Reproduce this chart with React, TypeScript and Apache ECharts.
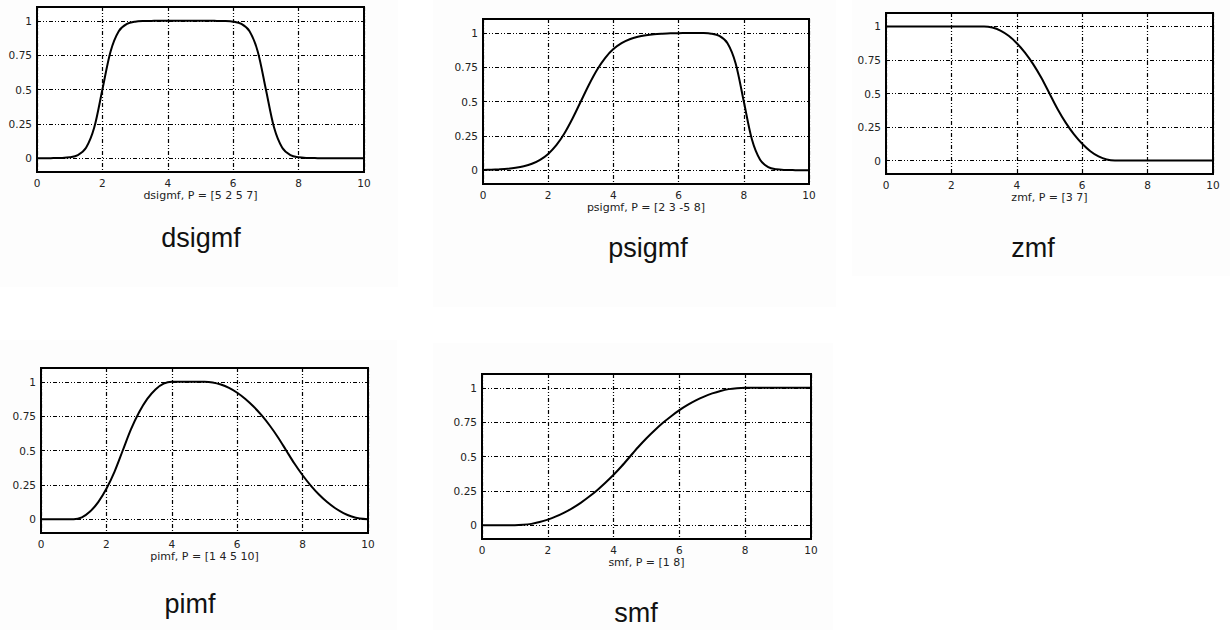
import React, { useEffect, useRef } from "react";
import * as echarts from "echarts";

const xValues = [
  0, 0.25, 0.5, 0.75, 1, 1.25, 1.5, 1.75, 2, 2.25, 2.5, 2.75, 3, 3.25, 3.5, 3.75, 4,
  4.25, 4.5, 4.75, 5, 5.25, 5.5, 5.75, 6, 6.25, 6.5, 6.75, 7, 7.25, 7.5, 7.75, 8,
  8.25, 8.5, 8.75, 9, 9.25, 9.5, 9.75, 10,
];

const xTicks = [0, 2, 4, 6, 8, 10];
const yTicks = [0, 0.25, 0.5, 0.75, 1];

const dsigmfValues = [
  0, 0, 0.001, 0.002, 0.007, 0.023, 0.076, 0.223, 0.5, 0.777, 0.924, 0.977, 0.993,
  0.998, 0.999, 1, 1, 1, 1, 1, 1, 1, 0.999, 0.998, 0.993, 0.977, 0.924, 0.777, 0.5,
  0.223, 0.076, 0.023, 0.007, 0.002, 0.001, 0, 0, 0, 0, 0, 0,
];

const psigmfValues = [
  0.002, 0.004, 0.007, 0.011, 0.018, 0.029, 0.047, 0.076, 0.119, 0.182, 0.269, 0.378,
  0.5, 0.622, 0.731, 0.818, 0.881, 0.924, 0.953, 0.971, 0.982, 0.989, 0.993, 0.996,
  0.997, 0.998, 0.999, 0.998, 0.993, 0.977, 0.924, 0.777, 0.5, 0.223, 0.076, 0.023,
  0.007, 0.002, 0.001, 0, 0,
];

const zmfValues = [
  1, 1, 1, 1, 1, 1, 1, 1, 1, 1, 1, 1, 1, 0.992, 0.969, 0.93, 0.875, 0.805, 0.719,
  0.617, 0.5, 0.383, 0.281, 0.195, 0.125, 0.07, 0.031, 0.008, 0, 0, 0, 0, 0, 0, 0, 0,
  0, 0, 0, 0, 0,
];

const pimfValues = [
  0, 0, 0, 0, 0, 0.014, 0.056, 0.125, 0.222, 0.347, 0.5, 0.653, 0.778, 0.875, 0.944,
  0.986, 1, 1, 1, 1, 1, 0.995, 0.98, 0.955, 0.92, 0.875, 0.82, 0.755, 0.68, 0.595, 0.5,
  0.405, 0.32, 0.245, 0.18, 0.125, 0.08, 0.045, 0.02, 0.005, 0,
];

const smfValues = [
  0, 0, 0, 0, 0, 0.003, 0.01, 0.023, 0.041, 0.064, 0.092, 0.125, 0.163, 0.207, 0.255,
  0.309, 0.367, 0.431, 0.5, 0.569, 0.633, 0.691, 0.745, 0.793, 0.837, 0.875, 0.908,
  0.936, 0.959, 0.977, 0.99, 0.997, 1, 1, 1, 1, 1, 1, 1, 1, 1,
];

const seriesValues = [dsigmfValues, psigmfValues, zmfValues, pimfValues, smfValues];
const subtitles = [
  "dsigmf, P = [5 2 5 7]",
  "psigmf, P = [2 3 -5 8]",
  "zmf, P = [3 7]",
  "pimf, P = [1 4 5 10]",
  "smf, P = [1 8]",
];
const titles = ["dsigmf", "psigmf", "zmf", "pimf", "smf"];

// layout: plot boxes [left, top, width, height]
const boxes = [
  [37, 7, 327, 165],
  [483, 19, 326, 165],
  [886, 13, 327, 161],
  [41, 368, 327, 165],
  [482, 374, 329, 165],
];
const titlePos = [
  [201, 238],
  [648, 248],
  [1033, 248],
  [190, 604],
  [636, 613],
];
const panels = [
  [0, 0, 398, 287],
  [433, 0, 403, 307],
  [852, 0, 378, 276],
  [0, 340, 397, 290],
  [433, 343, 400, 287],
];

const gridDash = [4, 2, 1, 2, 1, 2];
const labelFont = "DejaVu Sans";

export default function App() {
  const ref = useRef<HTMLDivElement>(null);
  useEffect(() => {
    if (!ref.current) return;
    const chart = echarts.init(ref.current, undefined, { renderer: "svg" });
    const grids = boxes.map((b) => ({
      left: b[0],
      top: b[1],
      width: b[2],
      height: b[3],
      show: true,
      borderColor: "#000",
      borderWidth: 2,
      backgroundColor: "#fff",
      containLabel: false,
    }));
    const xAxes = boxes.map((_, i) => ({
      type: "value",
      gridIndex: i,
      min: 0,
      max: 10,
      interval: 2,
      axisLine: { show: false },
      axisTick: { show: false },
      axisLabel: {
        fontFamily: labelFont,
        fontSize: 10.5,
        color: "#222",
        margin: 5,
        customValues: xTicks,
      },
      splitLine: { show: true, lineStyle: { color: "#000", width: 1.2, type: gridDash } },
    }));
    const yAxes = boxes.map((_, i) => ({
      type: "value",
      gridIndex: i,
      min: -0.1,
      max: 1.1,
      axisLine: { show: false },
      axisTick: { show: false, customValues: yTicks },
      axisLabel: {
        fontFamily: labelFont,
        fontSize: 10.5,
        color: "#222",
        margin: 5,
        customValues: yTicks,
        formatter: (v: number) => String(v),
      },
      splitLine: { show: true, lineStyle: { color: "#000", width: 1.2, type: gridDash } },
    }));
    const series = seriesValues.map((vals, i) => ({
      type: "line",
      xAxisIndex: i,
      yAxisIndex: i,
      data: xValues.map((x, k) => [x, vals[k]]),
      showSymbol: false,
      symbol: "none",
      smooth: 0.3,
      lineStyle: { color: "#000", width: 2 },
      z: 5,
    }));
    const graphic: any[] = [];
    panels.forEach((p) => {
      graphic.push({
        type: "rect",
        z: -10,
        shape: { x: p[0], y: p[1], width: p[2], height: p[3] },
        style: { fill: "#fdfdfd" },
        silent: true,
      });
    });
    boxes.forEach((b, i) => {
      graphic.push({
        type: "text",
        x: b[0] + b[2] / 2,
        y: b[1] + b[3] + 23,
        style: {
          text: subtitles[i],
          fontFamily: labelFont,
          fontSize: 11,
          fill: "#222",
          align: "center",
          verticalAlign: "middle",
        },
      });
      graphic.push({
        type: "text",
        x: titlePos[i][0],
        y: titlePos[i][1],
        style: {
          text: titles[i],
          fontFamily: "Liberation Sans",
          fontSize: 27,
          fill: "#111",
          align: "center",
          verticalAlign: "middle",
        },
      });
    });
    chart.setOption({
      animation: false,
      backgroundColor: "#fff",
      grid: grids,
      xAxis: xAxes,
      yAxis: yAxes,
      series,
      graphic,
    } as any);
    return () => chart.dispose();
  }, []);
  return (
    <div
      ref={ref}
      style={{ position: "absolute", left: 0, top: 0, width: 1230, height: 630 }}
    />
  );
}
